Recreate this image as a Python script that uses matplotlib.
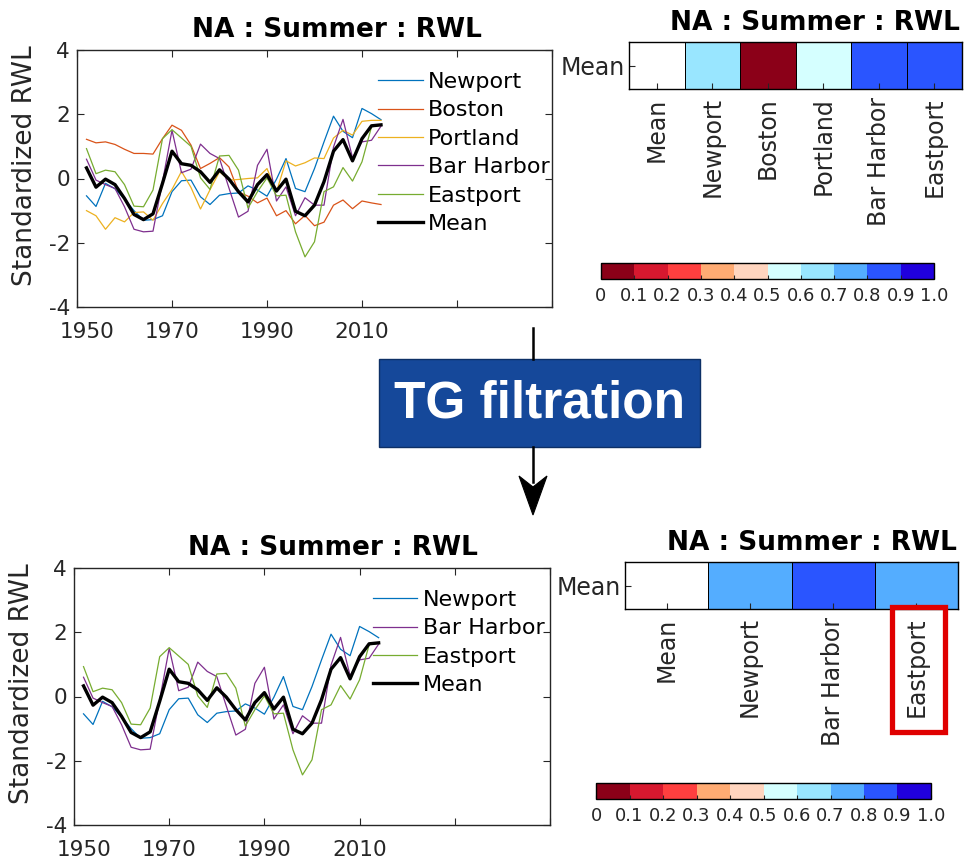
import matplotlib
matplotlib.use('Agg')
import matplotlib.pyplot as plt
import numpy as np
from matplotlib.colors import ListedColormap, BoundaryNorm
from matplotlib.cm import ScalarMappable
from matplotlib.patches import Rectangle, Polygon
from matplotlib.lines import Line2D
from matplotlib.transforms import ScaledTranslation

# ---- data ----
years = [1952, 1954, 1956, 1958, 1960, 1962, 1964, 1966, 1968, 1970, 1972, 1974, 1976, 1978, 1980, 1982,
         1984, 1986, 1988, 1990, 1992, 1994, 1996, 1998, 2000, 2002, 2004, 2006, 2008, 2010, 2012, 2014]

newport = [-0.54, -0.87, -0.15, -0.32, -0.64, -1.00, -1.30, -1.28, -1.16, -0.41, -0.07, -0.05, -0.57, -0.81, -0.52, -0.47,
           -0.45, -0.23, -0.36, -0.55, -0.02, 0.62, -0.31, -0.41, 0.31, 1.14, 1.94, 1.47, 1.27, 2.18, 2.02, 1.83]
boston = [1.22, 1.11, 1.14, 1.06, 0.91, 0.78, 0.78, 0.76, 1.24, 1.66, 1.50, 1.04, 0.31, 0.47, 0.65, 0.36,
          -0.42, -0.55, -0.76, -0.61, -1.16, -1.00, -1.41, -1.15, -1.47, -1.36, -0.83, -0.67, -0.94, -0.70, -0.76, -0.81]
portland = [-1.00, -1.16, -1.58, -1.22, -1.35, -1.06, -1.04, -1.30, -0.78, -0.34, 0.22, -0.28, -0.95, -0.35, 0.21, -0.05,
            -0.03, 0.00, 0.02, 0.31, -0.41, 0.55, 0.39, 0.49, 0.64, 0.62, 1.26, 1.50, 1.35, 1.78, 1.81, 1.81]
bar_harbor = [0.60, -0.05, -0.19, -0.31, -0.88, -1.58, -1.66, -1.64, -0.10, 1.50, 0.18, 0.29, 1.07, 0.78, 0.62, -0.30,
              -1.20, -1.02, 0.41, 0.91, -0.70, -0.26, -1.16, -0.60, -0.83, -0.83, 0.98, 1.84, 0.65, 1.14, 1.19, 1.63]
eastport = [0.93, 0.15, 0.26, 0.21, -0.19, -0.86, -0.88, -0.36, 1.24, 1.52, 1.26, 1.00, 0.02, -0.34, 0.70, 0.72,
            0.26, -0.92, -0.41, 0.02, -0.54, -0.52, -1.66, -2.44, -1.97, -0.41, -0.26, 0.34, -0.08, 0.52, 1.61, 1.66]
mean_rwl = [0.33, -0.27, -0.02, -0.19, -0.62, -1.12, -1.28, -1.10, -0.15, 0.85, 0.46, 0.41, 0.21, -0.12, 0.27, -0.02,
            -0.41, -0.73, -0.19, 0.12, -0.39, -0.02, -1.02, -1.16, -0.83, -0.10, 0.85, 1.21, 0.55, 1.24, 1.64, 1.67]

sites_top = ['Mean', 'Newport', 'Boston', 'Portland', 'Bar Harbor', 'Eastport']
corr_top = [np.nan, 0.65, 0.05, 0.55, 0.85, 0.85]
sites_bot = ['Mean', 'Newport', 'Bar Harbor', 'Eastport']
corr_bot = [np.nan, 0.75, 0.85, 0.75]

cbar_colors = ['#8B0018', '#D7182F', '#FF3F3F', '#FFAB73', '#FFD5BF',
               '#D5FFFF', '#99E6FF', '#54ADFF', '#2A55FF', '#2000DD']
cbar_bounds = [0, 0.1, 0.2, 0.3, 0.4, 0.5, 0.6, 0.7, 0.8, 0.9, 1.0]
cbar_labels = ['0', '0.1', '0.2', '0.3', '0.4', '0.5', '0.6', '0.7', '0.8', '0.9', '1.0']

series = {'Newport': (newport, '#0072BD'), 'Boston': (boston, '#D95319'), 'Portland': (portland, '#EDB120'),
          'Bar Harbor': (bar_harbor, '#7E2F8E'), 'Eastport': (eastport, '#77AC30')}

W, H = 969, 860
fig = plt.figure(figsize=(W / 100, H / 100), dpi=100)
plt.rcParams['font.family'] = 'DejaVu Sans'
txt = '#262626'


def fbox(l, t, r, b):
    # pixel box -> figure fraction rect
    return [l / W, 1 - b / H, (r - l) / W, (b - t) / H]


def px(x, y):
    return (x / W, 1 - y / H)


def line_panel(rect, names, title_x, leg_x):
    ax = fig.add_axes(rect)
    for n in names:
        vals, c = series[n]
        ax.plot(years, vals, color=c, lw=0.9, label=n)
    ax.plot(years, mean_rwl, color='k', lw=2.4, label='Mean')
    ax.set_xlim(1950, 2050)
    ax.set_ylim(-4, 4)
    ax.set_xticks([1950, 1970, 1990, 2010, 2030, 2050])
    ax.set_xticklabels(['1950', '1970', '1990', '2010', '', ''])
    ax.set_yticks([-4, -2, 0, 2, 4])
    ax.set_yticklabels(['-4', '-2', '0', '2', '4'])
    ax.tick_params(direction='in', top=True, right=True, length=5, width=0.8,
                   labelsize=15.5, colors=txt)
    ax.tick_params(axis='x', pad=11)
    ax.tick_params(axis='y', pad=5)
    # first year label sits a bit right of its tick, like the original
    first = ax.get_xticklabels()[0]
    first.set_transform(first.get_transform() + ScaledTranslation(7 / 72, 0, fig.dpi_scale_trans))
    for s in ax.spines.values():
        s.set_linewidth(1.0)
        s.set_color(txt)
    ax.set_ylabel('Standardized RWL', fontsize=19, color=txt)
    ax.yaxis.set_label_coords(-0.082, 0.55)
    ax.text(title_x, 1.078, 'NA : Summer : RWL', transform=ax.transAxes, ha='center', va='center',
            fontsize=19, fontweight='bold', color='k')
    ax.legend(loc='upper left', bbox_to_anchor=(leg_x, 0.915), frameon=False, fontsize=16,
              handlelength=2.0, handletextpad=0.25, labelspacing=0.38, borderpad=0, borderaxespad=0)
    return ax


def heat_panel(rect, names, vals, title_x):
    ax = fig.add_axes(rect)
    cmap = ListedColormap(cbar_colors)
    cmap.set_bad('white')
    norm = BoundaryNorm(cbar_bounds, cmap.N)
    data = np.ma.masked_invalid(np.array([vals]))
    ax.pcolormesh(np.arange(len(names) + 1), [0, 1], data, cmap=cmap, norm=norm,
                  edgecolors='k', linewidth=0.6)
    ax.set_xlim(0, len(names))
    ax.set_ylim(0, 1)
    ax.set_xticks(np.arange(len(names)) + 0.5)
    ax.set_xticklabels(names, rotation=90, fontsize=17, color=txt)
    ax.set_yticks([0.5])
    ax.set_yticklabels(['Mean'], fontsize=17, color=txt)
    ax.tick_params(direction='in', length=4, width=0.8, colors=txt)
    ax.tick_params(axis='x', pad=6)
    ax.tick_params(axis='y', pad=3)
    for s in ax.spines.values():
        s.set_linewidth(1.0)
        s.set_color('k')
    ax.text(title_x, 1.40, 'NA : Summer : RWL', transform=ax.transAxes, ha='center', va='center',
            fontsize=19, fontweight='bold', color='k')
    return ax, cmap, norm


def cbar_panel(rect, cmap, norm):
    cax = fig.add_axes(rect)
    cb = fig.colorbar(ScalarMappable(norm=norm, cmap=cmap), cax=cax, orientation='horizontal',
                      ticks=cbar_bounds)
    cb.ax.set_xticklabels(cbar_labels)
    cb.ax.tick_params(direction='in', length=3, width=0.8, labelsize=13, colors=txt, pad=6)
    cb.outline.set_linewidth(1.0)
    return cb


# top row
line_panel(fbox(77, 50, 552, 307), ['Newport', 'Boston', 'Portland', 'Bar Harbor', 'Eastport'], 0.547, 0.634)
ax_h1, cm1, nm1 = heat_panel(fbox(629, 42, 962, 89), sites_top, corr_top, 0.559)
cbar_panel(fbox(601, 263, 934, 279), cm1, nm1)

# bottom row
line_panel(fbox(74, 568, 550, 825), ['Newport', 'Bar Harbor', 'Eastport'], 0.544, 0.628)
ax_h2, cm2, nm2 = heat_panel(fbox(625, 562, 958, 609), sites_bot, corr_bot, 0.562)
cbar_panel(fbox(596, 783, 931, 799), cm2, nm2)

# red box around Eastport label
l, b = px(892, 732)
fig.patches.append(Rectangle((l, b), 53 / W, 125 / H, transform=fig.transFigure,
                             fill=False, edgecolor='#E00000', lw=3.8))

# TG filtration box + arrow
fig.lines.append(Line2D([533 / W, 533 / W], [px(0, 328)[1], px(0, 359)[1]], transform=fig.transFigure,
                        color='k', lw=1.8))
fig.lines.append(Line2D([533 / W, 533 / W], [px(0, 447)[1], px(0, 482)[1]], transform=fig.transFigure,
                        color='k', lw=1.8))
l, b = px(379, 447)
fig.patches.append(Rectangle((l, b), 321 / W, 88 / H, transform=fig.transFigure,
                             facecolor='#15489A', edgecolor='#0D2F66', lw=1.0))
fig.text(540 / W, px(0, 404)[1], 'TG filtration', ha='center', va='center', color='white',
         fontsize=37, fontweight='bold', family='Liberation Sans')
fig.patches.append(Polygon([px(533, 515), px(519, 476), px(533, 487), px(547, 476)], closed=True,
                           transform=fig.transFigure, facecolor='k', edgecolor='k', lw=0.8))

fig.savefig('out.png', dpi=100)
